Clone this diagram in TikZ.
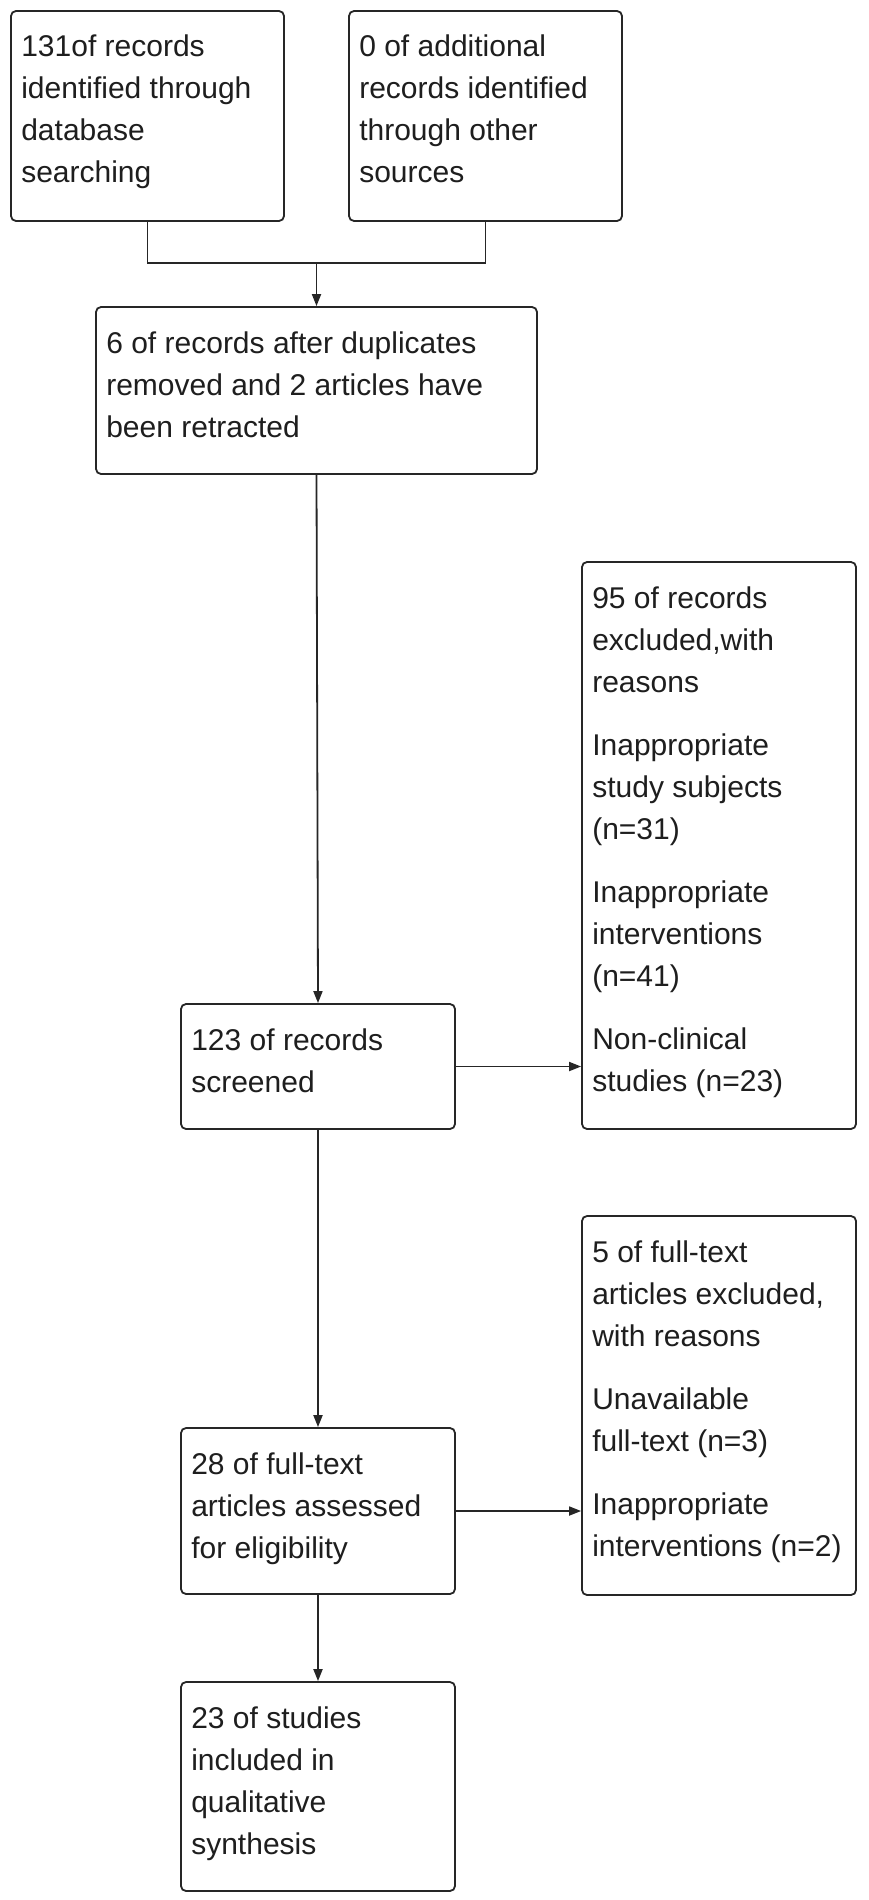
\documentclass[tikz,border=0pt]{standalone}
\usepackage{fontspec}
\setmainfont{Liberation Sans}
\usetikzlibrary{arrows.meta}
\definecolor{linec}{HTML}{262626}
\definecolor{txtc}{HTML}{1E1E1E}
\begin{document}
\begin{tikzpicture}[x=1pt,y=-1pt,
  box/.style={draw=linec, line width=1.8pt, rounded corners=5pt, inner sep=0pt, fill=white},
  txt/.style={anchor=north west, inner sep=0pt, align=left, text=txtc,
    font=\fontsize{30}{42}\selectfont},
  conn/.style={draw=linec, line width=1.8pt},
  arr/.style={conn, -{Triangle[length=12pt,width=9pt]}}]
\useasboundingbox[fill=white] (0,0) rectangle (868,1900);
% boxes
\node[box, minimum width=273pt, minimum height=210pt] (A) at (147.5,116) {};
\node[box, minimum width=273pt, minimum height=210pt] (B) at (485.5,116) {};
\node[box, minimum width=441pt, minimum height=167pt] (C) at (316.5,390.5) {};
\node[box, minimum width=274pt, minimum height=567pt] (D) at (719,845.5) {};
\node[box, minimum width=274pt, minimum height=125pt] (E) at (318,1066.5) {};
\node[box, minimum width=274pt, minimum height=379pt] (F) at (719,1405.5) {};
\node[box, minimum width=274pt, minimum height=166pt] (G) at (318,1511) {};
\node[box, minimum width=274pt, minimum height=209pt] (H) at (318,1786.5) {};
% texts
\node[txt] (tA) at ([xshift=11pt,yshift=-24pt]A.north west) {131of records\\identified through\\database\\searching};
\node[txt] (tB) at ([xshift=11pt,yshift=-24pt]B.north west) {0 of additional\\records identified\\through other\\sources};
\node[txt] (tC) at ([xshift=11pt,yshift=-25pt]C.north west) {6 of records after duplicates\\removed and 2 articles have\\been retracted};
\node[txt] (tD) at ([xshift=11pt,yshift=-25pt]D.north west) {95 of records\\excluded,with\\reasons\\[21pt]Inappropriate\\study subjects\\(n=31)\\[21pt]Inappropriate\\interventions\\(n=41)\\[21pt]Non-clinical\\studies (n=23)};
\node[txt] (tE) at ([xshift=11pt,yshift=-25pt]E.north west) {123 of records\\screened};
\node[txt] (tF) at ([xshift=11pt,yshift=-25pt]F.north west) {5 of full-text\\articles excluded,\\with reasons\\[21pt]Unavailable\\full-text (n=3)\\[21pt]Inappropriate\\interventions (n=2)};
\node[txt] (tG) at ([xshift=11pt,yshift=-25pt]G.north west) {28 of full-text\\articles assessed\\for eligibility};
\node[txt] (tH) at ([xshift=11pt,yshift=-25pt]H.north west) {23 of studies\\included in\\qualitative\\synthesis};
% connectors
\coordinate (j) at (318,263);
\draw[conn] (A.south) -- (A.south |- j) -- (B.south |- j) -- (B.south);
\draw[arr] (C.north |- j) -- (C.north);
\draw[arr] (C.south) -- (E.north);
\draw[arr] (E.east) -- (E.east -| D.west);
\draw[arr] (E.south) -- (G.north);
\draw[arr] (G.east) -- (G.east -| F.west);
\draw[arr] (G.south) -- (H.north);
\end{tikzpicture}
\end{document}
